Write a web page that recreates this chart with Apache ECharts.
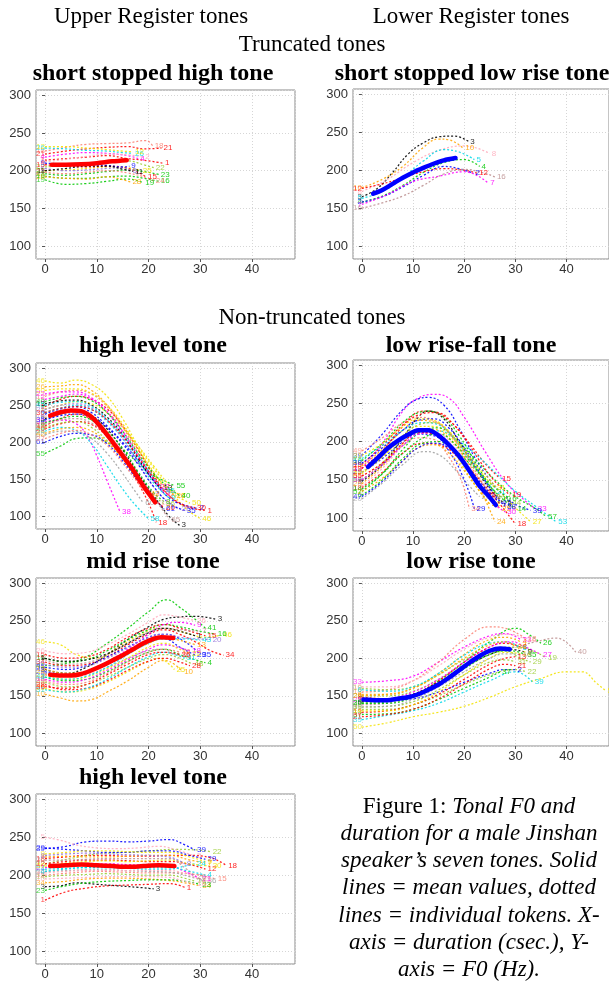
<!DOCTYPE html>
<html><head><meta charset="utf-8">
<script src="https://cdn.jsdelivr.net/npm/echarts@6/dist/echarts.min.js"></script>
<style>html,body{margin:0;padding:0;background:#fff}#c{width:609px;height:983px}</style>
</head><body><div id="c"></div>
<script>
// ---------------- DATA ----------------
const xTicks = [0, 10, 20, 30, 40];
const yTicks = [100, 150, 200, 250, 300];
const headerTexts = ['Upper Register tones', 'Lower Register tones', 'Truncated tones', 'Non-truncated tones'];
const panelTitles = ['short stopped high tone', 'short stopped low rise tone', 'high level tone', 'low rise-fall tone', 'mid rise tone', 'low rise tone', 'high level tone'];
const captionLines = [
  ['Figure 1: ', 'Tonal F0 and'],
  ['', 'duration for a male Jinshan'],
  ['', 'speaker\u2019s seven tones. Solid'],
  ['', 'lines = mean values, dotted'],
  ['', 'lines = individual tokens. X-'],
  ['', 'axis = duration (csec.), Y-'],
  ['', 'axis = F0 (Hz).']
];

// Panel 1: short stopped high tone
const p1Mean = [[1.3,208],[4,208],[7,208.5],[10,210],[13,212.5],[15.8,214]];
const p1Ids = [18,21,1,26,22,25,23,16,19,28,24,15,6,9,12,4,11,2];
const p1Tokens = [
  [[0,226],[4,231],[8,235],[12,236],[16,237],[19.5,240],[20.8,233]],
  [[0,222],[4,226],[8,229],[12,231],[16,232],[19,229],[22.5,230]],
  [[0,214],[4,216],[8,218],[12,220],[16,216],[19,214],[22.8,210]],
  [[0,230],[4,229],[8,227],[12,226],[15,224],[17,223]],
  [[0,205],[4,207],[8,209],[12,212],[16,213],[19,208],[21,204]],
  [[0,200],[4,201],[8,203],[12,205],[16,204],[18.5,200]],
  [[0,196],[4,194],[8,196],[12,199],[16,201],[19,199],[22,195]],
  [[0,193],[4,190],[8,190],[12,192],[16,193],[19,190],[22,186]],
  [[0,188],[4,182],[8,183],[12,186],[16,189],[19,184]],
  [[0,192],[4,190],[8,189],[12,192],[15,188],[16.5,185]],
  [[0,198],[4,196],[8,198],[12,200],[16,197],[20,190],[21,186]],
  [[0,208],[4,206],[8,205],[12,206],[16,203],[19.5,192]],
  [[0,203],[4,200],[8,201],[12,203],[15,204],[16.5,200]],
  [[0,210],[4,209],[8,208],[12,207],[15,205],[16.3,206]],
  [[0,232],[4,232],[8,230],[12,228],[15,226],[17,225]],
  [[0,218],[4,222],[8,224],[12,223],[16,220],[18,216]],
  [[0,200],[4,203],[8,206],[12,206],[15,202],[17,199]],
  [[0,212],[4,215],[8,219],[12,222],[16,221],[19,218]]
];

// Panel 2: short stopped low rise tone
const p2Mean = [[2.2,169],[4,174],[6,182],[8,190],[10,197],[12,203],[14,208.5],[16,213],[18.3,216]];
const p2Ids = [3,10,8,5,4,12,2,7,16];
const p2Tokens = [
  [[0,165],[3,176],[6,197],[9,221],[12,236],[15,244],[18,245],[20.8,238]],
  [[0,177],[4,188],[8,205],[12,230],[15,241],[17,240],[19.8,229]],
  [[0,172],[5,188],[10,210],[15,226],[20,232],[25,222]],
  [[0,163],[4,172],[8,190],[12,212],[16,227],[19,224],[22,214]],
  [[0,158],[4,166],[8,180],[12,197],[16,210],[20,214],[23,205]],
  [[0,176],[4,182],[8,190],[12,198],[16,202],[20,200],[22.5,196]],
  [[0,158],[4,165],[8,178],[12,193],[16,205],[19,202],[21.8,196]],
  [[0,155],[5,168],[10,185],[15,192],[20,198],[24.7,183]],
  [[0,150],[4,157],[8,166],[12,180],[16,195],[20,201],[24,196],[26,191]]
];

// Panel 3: high level tone (falling)
const p3Mean = [[1,236],[3,240.5],[5,243],[7,242],[9,234],[11,219],[13,201],[15,182],[17,163],[19,141],[21.3,119]];
const p3Ids = [46,1,2,55,38,58,18,3,61,60,26,5,7,12,8,9,13,15,20,25,35,40,36,42,50,27,22,45,65,30];
const p3Tokens = [
  [[0,283],[3,280],[6,284],[9,278],[12,262],[15,232],[18,195],[21,165],[24,137],[27,112],[30,97]],
  [[0,248],[3,258],[6,262],[9,258],[12,245],[15,222],[18,190],[21,155],[24,128],[27,114],[31,108]],
  [[0,238],[3,245],[6,248],[9,240],[12,222],[15,200],[18,175],[21,148],[24,125],[27,115],[29.5,111]],
  [[0,185],[3,195],[6,205],[9,206],[12,200],[15,190],[18,172],[21,155],[24,145],[25,141]],
  [[0,228],[3,230],[6,225],[8,210],[10,182],[12,148],[14.5,106]],
  [[0,215],[3,220],[6,216],[9,198],[12,168],[15,137],[17.5,115],[20,97]],
  [[0,222],[3,232],[6,238],[9,230],[12,210],[15,180],[18,145],[20,118],[21.5,92]],
  [[0,232],[3,238],[6,242],[9,236],[12,218],[15,190],[18,158],[21,128],[24,100],[26,88]],
  [[0,200],[3,208],[6,212],[9,210],[12,198],[15,175],[18,148],[21,125],[23,110]],
  [[0,210],[3,215],[6,214],[9,205],[12,185],[15,158],[17,138],[19,118]],
  [[0,275],[3,276],[6,278],[9,270],[12,250],[15,222],[18,190],[21,158],[23,140],[25,128]],
  [[0,258],[3,262],[6,265],[9,258],[12,240],[15,212],[18,180],[21,150],[23,132]],
  [[0,245],[3,250],[6,255],[9,252],[12,240],[15,220],[18,195],[21,168],[24,142],[26,128]],
  [[0,262],[3,268],[6,270],[9,265],[12,248],[15,220],[18,185],[21,150],[23,130]],
  [[0,226],[3,232],[6,235],[9,230],[12,215],[15,192],[18,160],[21,132],[23,120]],
  [[0,240],[3,246],[6,250],[9,244],[12,228],[15,205],[18,175],[21,145],[24,125]],
  [[0,252],[3,256],[6,257],[9,250],[12,234],[15,210],[18,178],[21,148],[22.5,138]],
  [[0,235],[3,240],[6,240],[9,232],[12,215],[15,188],[18,155],[21,125],[22,118]],
  [[0,218],[3,225],[6,228],[9,224],[12,208],[15,185],[18,152],[21,124],[23,112]],
  [[0,244],[3,250],[6,252],[9,246],[12,230],[15,205],[18,172],[21,140],[24,118],[26,110]],
  [[0,230],[3,236],[6,238],[9,234],[12,220],[15,198],[18,170],[21,140],[24,118],[27,108]],
  [[0,255],[3,260],[6,262],[9,256],[12,240],[15,215],[18,185],[21,158],[24,138],[26,128]],
  [[0,220],[3,226],[6,228],[9,220],[12,202],[15,178],[18,150],[21,128],[23,117]],
  [[0,212],[3,218],[6,220],[9,215],[12,200],[15,178],[18,150],[20,130]],
  [[0,270],[3,272],[6,272],[9,266],[12,250],[15,225],[18,192],[21,160],[24,135],[28,118]],
  [[0,205],[3,212],[6,216],[9,210],[12,196],[15,172],[18,145],[20,128]],
  [[0,265],[3,268],[6,268],[9,260],[12,242],[15,215],[18,182],[20,160],[22,140]],
  [[0,250],[3,254],[6,255],[9,248],[12,232],[15,210],[18,182],[21,152],[23,135]],
  [[0,224],[3,230],[6,232],[9,226],[12,210],[15,186],[18,156],[21,126],[24,96]],
  [[0,240],[3,246],[6,248],[9,244],[12,230],[15,208],[18,180],[21,152],[24,128],[27,115],[29,112]]
];

// Panel 4: low rise-fall tone
const p4Mean = [[1.2,167],[3,178],[5,191],[7,201],[9,209],[11,215],[13,215],[15,208],[17,196],[19,181],[21,162],[23,142],[24.5,131],[26.2,117]];
const p4Ids = [33,39,20,15,53,34,29,18,24,27,57,3,25,6,10,12,21,9,44,14,49,38,2,30,47,19,31,55];
const p4Tokens = [
  [[0,165],[4,198],[8,240],[11,257],[14,262],[17,257],[20,232],[24,188],[28,148],[32,122],[34,112]],
  [[0,182],[4,210],[8,242],[11,256],[13,258],[16,248],[19,218],[22,180],[25,150],[28,128],[30,118],[33,110]],
  [[0,125],[4,146],[8,170],[12,187],[15,183],[18,165],[21,142],[23,128]],
  [[0,170],[4,195],[8,222],[12,240],[15,238],[18,222],[21,198],[24,172],[27,152]],
  [[0,150],[4,170],[8,195],[12,212],[15,214],[18,205],[22,185],[26,160],[30,135],[34,115],[38,95]],
  [[0,155],[4,172],[8,195],[11,205],[14,203],[17,180],[19.5,148],[21,112]],
  [[0,160],[4,178],[8,200],[11,210],[14,208],[17,188],[20,150],[22,112]],
  [[0,140],[4,160],[8,185],[12,198],[15,196],[19,178],[23,150],[27,118],[30,92]],
  [[0,168],[4,190],[8,215],[11,228],[14,226],[17,212],[20,180],[23,140],[26,95]],
  [[0,158],[4,180],[8,208],[11,220],[14,220],[17,208],[21,180],[25,150],[29,120],[33,95]],
  [[0,135],[4,158],[8,190],[12,215],[15,218],[18,205],[22,178],[26,150],[30,128],[34,112],[36,102]],
  [[0,148],[4,170],[8,205],[11,232],[13,240],[16,230],[19,200],[22,168],[25,138],[28,118]],
  [[0,145],[4,168],[8,198],[11,215],[14,216],[17,205],[20,180],[23,150],[26,122],[27,112]],
  [[0,130],[4,150],[8,178],[12,198],[15,200],[18,190],[22,165],[26,140],[29,125]],
  [[0,175],[4,198],[8,225],[11,238],[13,240],[16,232],[19,208],[22,175],[25,142],[27,125]],
  [[0,160],[4,180],[8,205],[11,215],[14,212],[17,195],[20,165],[23,135],[25,118]],
  [[0,178],[4,195],[8,215],[12,225],[15,222],[18,205],[21,178],[24,150],[26,135]],
  [[0,142],[4,165],[8,195],[11,210],[14,212],[17,202],[20,178],[23,150],[26,128],[29,112]],
  [[0,150],[4,172],[8,205],[11,222],[14,225],[17,212],[20,188],[23,158],[26,135],[29,120]],
  [[0,138],[4,158],[8,185],[12,205],[15,210],[18,198],[21,175],[24,150],[27,128],[30,112]],
  [[0,188],[4,205],[8,225],[11,232],[14,228],[17,212],[20,185],[23,152],[25,128]],
  [[0,172],[4,192],[8,215],[11,228],[14,230],[17,218],[20,192],[23,160],[26,130],[28,115]],
  [[0,135],[4,152],[8,175],[11,192],[14,196],[17,185],[20,162],[23,135],[25,118]],
  [[0,150],[4,170],[8,195],[11,210],[14,212],[17,198],[20,172],[23,142],[26,118],[28,108]],
  [[0,128],[4,148],[8,175],[11,192],[14,198],[17,192],[20,172],[24,140],[27,120]],
  [[0,165],[4,188],[8,220],[11,235],[14,238],[17,228],[20,205],[23,175],[26,148],[29,130]],
  [[0,182],[4,198],[8,220],[11,230],[14,228],[17,214],[20,190],[23,162],[26,140]],
  [[0,155],[4,172],[8,198],[11,212],[14,210],[17,195],[20,170],[22,150],[24,130]]
];

// Panel 5: mid rise tone
const p5Mean = [[1,178],[3,177],[5,177],[7,179],[9,184],[11,190],[13,197],[15,204],[17,212],[19,220],[21,226],[22.5,228],[24.8,227]];
const p5Ids = [41,3,10,46,16,34,4,48,25,29,35,15,9,18,28,26,31,5,20,13,39,7,22,36,43,1];
const p5Tokens = [
  [[0,190],[4,193],[8,202],[12,220],[16,240],[20,262],[23.5,278],[26,268],[29,252],[31,240]],
  [[0,185],[4,180],[8,188],[12,205],[16,225],[20,242],[23,252],[26,255],[29,256],[33,252]],
  [[0,152],[3,147],[6,143],[9,145],[12,155],[16,170],[20,188],[23,197],[25,192],[26.5,182]],
  [[0,222],[3,218],[6,205],[10,200],[14,214],[18,230],[22,240],[25,238],[28,232],[31,228],[34,231]],
  [[0,200],[4,195],[8,198],[12,210],[16,225],[20,238],[23,245],[26,242],[30,236],[33,232]],
  [[0,195],[4,190],[8,192],[12,202],[16,218],[20,232],[23,238],[26,232],[29,222],[32,210],[34.5,204]],
  [[0,175],[4,170],[8,172],[12,182],[16,196],[20,208],[23,212],[26,205],[29,198],[31,194]],
  [[0,168],[4,162],[8,165],[12,175],[16,188],[20,200],[23,205],[26,200],[28.5,192]],
  [[0,160],[4,155],[8,158],[12,168],[16,182],[20,196],[22,200],[24,192],[25,185]],
  [[0,182],[4,178],[8,182],[12,193],[16,208],[20,222],[23,226],[26,215],[29,204]],
  [[0,188],[4,185],[8,190],[12,202],[16,215],[20,228],[23,232],[27,222],[30,205]],
  [[0,205],[4,200],[8,202],[12,212],[16,228],[20,240],[23,245],[26,240],[29,234],[31,230]],
  [[0,178],[4,176],[8,180],[12,195],[16,212],[20,232],[23,245],[26,248],[29,244]],
  [[0,172],[4,168],[8,172],[12,184],[16,198],[20,212],[23,218],[26,214],[28,210]],
  [[0,165],[4,158],[8,160],[12,170],[16,184],[20,196],[23,200],[26,195],[28,190]],
  [[0,210],[4,206],[8,208],[12,218],[16,232],[20,248],[23,258],[26,255],[29,250]],
  [[0,158],[4,155],[8,160],[12,172],[16,188],[20,202],[23,208],[25,205],[27,200]],
  [[0,180],[4,176],[8,178],[12,188],[16,200],[20,210],[23,212],[25,205],[27,203]],
  [[0,192],[4,188],[8,190],[12,200],[16,214],[20,228],[23,232],[26,228],[29,226],[32,225]],
  [[0,186],[4,180],[8,182],[12,192],[16,206],[20,220],[23,226],[26,224],[29,218]],
  [[0,170],[4,165],[8,168],[12,180],[16,195],[20,208],[23,212],[26,208]],
  [[0,198],[4,192],[8,194],[12,205],[16,220],[20,235],[23,240],[26,238],[30,236]],
  [[0,178],[4,172],[8,175],[12,186],[16,200],[20,215],[23,220],[26,212],[28,206]],
  [[0,162],[4,160],[8,165],[12,178],[16,192],[20,205],[23,208],[26,205]],
  [[0,175],[4,172],[8,176],[12,188],[16,205],[20,220],[23,226],[27,226],[30,224]],
  [[0,200],[4,196],[8,198],[12,206],[16,220],[20,234],[23,240],[26,236],[29,230]]
];

// Panel 6: low rise tone
const p6Mean = [[0.3,145],[3,144],[5,144],[7,146],[9,148],[11,152],[13,158],[15,165],[17,174],[19,184],[21,194],[23,203],[25,210],[27,213],[28.9,212]];
const p6Ids = [40,50,39,33,18,26,2,22,29,37,19,31,8,4,16,13,9,14,21,6,27,35,10,24];
const p6Tokens = [
  [[0,138],[5,140],[10,150],[15,168],[20,190],[25,208],[30,215],[34,222],[38,227],[41.8,208]],
  [[0,108],[5,114],[10,122],[15,128],[20,136],[25,148],[30,162],[35,173],[40,182],[43,182],[46,166],[47.6,157]],
  [[0,118],[5,124],[10,130],[15,140],[20,155],[25,170],[30,182],[33.4,168]],
  [[0,168],[5,170],[10,176],[15,195],[20,215],[25,230],[28,233],[31,225]],
  [[0,155],[5,158],[10,170],[15,195],[20,225],[25,242],[28,240],[32,226]],
  [[0,140],[5,142],[10,150],[15,170],[20,195],[25,222],[30,240],[33,230],[35,220]],
  [[0,145],[5,144],[10,146],[15,155],[20,168],[25,180],[28,185],[30,185]],
  [[0,132],[5,132],[10,138],[15,150],[20,165],[25,178],[30,185],[32,182]],
  [[0,150],[5,150],[10,156],[15,172],[20,192],[25,206],[28,210],[31,200],[33,195]],
  [[0,125],[5,126],[10,132],[15,145],[20,160],[25,175],[27,182]],
  [[0,160],[5,158],[10,162],[15,178],[20,198],[25,212],[30,215],[34,208],[36,200]],
  [[0,135],[5,136],[10,142],[15,158],[20,178],[25,195],[28,198],[30,195]],
  [[0,148],[5,146],[10,152],[15,170],[20,195],[25,215],[28,220],[31,215]],
  [[0,152],[5,152],[10,160],[15,180],[20,205],[25,225],[28,228],[31,222]],
  [[0,162],[5,162],[10,170],[15,190],[20,212],[25,228],[29,232],[32,225]],
  [[0,128],[5,130],[10,138],[15,152],[20,172],[25,192],[28,200],[30,202]],
  [[0,142],[5,144],[10,152],[15,168],[20,188],[25,205],[29,212],[32,208]],
  [[0,130],[5,130],[10,138],[15,155],[20,178],[25,200],[28,208],[31,206]],
  [[0,122],[5,125],[10,132],[15,146],[20,166],[25,186],[28,192],[30,190]],
  [[0,158],[5,156],[10,162],[15,180],[20,204],[25,220],[28,222],[31,214]],
  [[0,145],[5,146],[10,155],[15,172],[20,195],[25,215],[29,222],[32,215],[35,205]],
  [[0,140],[5,140],[10,148],[15,165],[20,186],[25,205],[29,210],[32,205]],
  [[0,135],[5,136],[10,145],[15,162],[20,182],[25,200],[28,206],[31,205]],
  [[0,150],[5,152],[10,160],[15,178],[20,200],[25,218],[28,222],[30,215]]
];

// Panel 7: high level tone
const p7Mean = [[1,212],[4,213],[7,214],[10,213],[13,212],[16,211],[19,212],[22,213],[25,212]];
const p7Ids = [39,1,3,18,15,22,29,34,23,5,36,9,12,21,24,7,14,30,33,16,26,8,4];
const p7Tokens = [
  [[0,235],[4,238],[8,244],[12,245],[16,244],[20,245],[24,247],[27,240],[29,233]],
  [[0,167],[4,178],[8,183],[12,186],[16,187],[20,188],[24,189],[27,184]],
  [[0,185],[3,186],[6,190],[10,188],[14,186],[18,184],[21,182]],
  [[0,222],[4,224],[8,226],[12,226],[16,225],[20,225],[24,226],[28,226],[32,223],[35,213]],
  [[0,200],[5,203],[10,205],[15,204],[20,203],[25,203],[30,200],[33,195]],
  [[0,215],[5,222],[10,228],[15,230],[20,232],[25,234],[30,233],[32,231]],
  [[0,236],[4,234],[8,232],[12,230],[16,230],[20,232],[24,232],[28,226],[31,221]],
  [[0,190],[4,192],[8,195],[12,196],[16,196],[20,195],[24,193],[27,190],[30,186]],
  [[0,180],[4,186],[8,190],[12,192],[16,193],[20,194],[24,194],[27,192],[30,188]],
  [[0,250],[3,246],[6,240],[10,236],[14,235],[18,236],[22,238],[26,232],[29,225]],
  [[0,205],[4,206],[8,207],[12,207],[16,206],[20,205],[24,204],[28,198],[31,192]],
  [[0,228],[4,230],[8,232],[12,232],[16,231],[20,230],[24,230],[28,224],[31,218]],
  [[0,215],[4,218],[8,220],[12,220],[16,219],[20,218],[24,218],[28,214],[31,208]],
  [[0,210],[4,212],[8,214],[12,215],[16,214],[20,213],[24,212],[27,205],[30,195]],
  [[0,208],[4,209],[8,210],[12,210],[16,209],[20,208],[24,208],[27,212],[29,215]],
  [[0,224],[4,225],[8,224],[12,224],[16,225],[20,226],[24,226],[28,220],[31,216]],
  [[0,198],[4,200],[8,201],[12,202],[16,201],[20,200],[24,200],[27,196],[29,192]],
  [[0,212],[4,216],[8,218],[12,219],[16,218],[20,219],[24,220],[28,215],[32,212]],
  [[0,203],[4,205],[8,206],[12,206],[16,206],[20,206],[24,206],[28,200],[30,194]],
  [[0,195],[4,196],[8,197],[12,198],[16,198],[20,198],[24,197],[27,192],[29,189]],
  [[0,220],[4,220],[8,221],[12,222],[16,222],[20,222],[24,222],[27,210],[29,198]],
  [[0,226],[4,228],[8,229],[12,228],[16,227],[20,226],[24,224],[27,215]],
  [[0,205],[4,208],[8,210],[12,210],[16,210],[20,210],[24,210],[28,205],[31,200]]
];

// ---------------- STYLE ----------------
const palette = {r:'#ff0000', g:'#00c800', b:'#0000ff', c:'#00d8e8', m:'#ff00ff', y:'#f2e200', k:'#000000',
  o:'#ffa500', s:'#fa8072', p:'#ffaabb', l:'#9acd32', e:'#a0a0a0', w:'#bc8f8f', v:'#9370db'};
const tokenColours = [
  'srrclygggosrvbymkp',
  'kopcgrbmw',
  'yrbgmcrkbeomysgckprvbgloysmcwr',
  'mbercsbroygkoggycplgsbombryrgc',
  'gkoygrglybbrmmrpcevoswyrckv',
  'wycmsgbllgllroprkyrcmgeos',
  'brkrslbogpeyrmcolyppwvcr'
];
const layout = [
  {grid:{left:36, top:90, width:259, height:169}, mean:'#ff0000', title:[153,74]},
  {grid:{left:353, top:89, width:259, height:170}, mean:'#0000ff', title:[472,74]},
  {grid:{left:36, top:363, width:259, height:166}, mean:'#ff0000', title:[153,346]},
  {grid:{left:353, top:360, width:259, height:171}, mean:'#0000ff', title:[471,346]},
  {grid:{left:36, top:578, width:259, height:168}, mean:'#ff0000', title:[153,562]},
  {grid:{left:353, top:578, width:259, height:168}, mean:'#0000ff', title:[471,562]},
  {grid:{left:36, top:794, width:259, height:170}, mean:'#ff0000', title:[153,778]}
];
const means = [p1Mean, p2Mean, p3Mean, p4Mean, p5Mean, p6Mean, p7Mean];
const tokens = [p1Tokens, p2Tokens, p3Tokens, p4Tokens, p5Tokens, p6Tokens, p7Tokens];
const ids = [p1Ids, p2Ids, p3Ids, p4Ids, p5Ids, p6Ids, p7Ids];

const SANS = '"Liberation Sans", Arial, sans-serif';
const SERIF = '"Liberation Serif", "Times New Roman", serif';

const grids = [], xAxes = [], yAxes = [], series = [], graphics = [];
layout.forEach((L, i) => {
  grids.push(Object.assign({show:true, borderColor:'#8a8a8a', borderWidth:1, backgroundColor:'#ffffff'}, L.grid));
  xAxes.push({type:'value', gridIndex:i, min:-1.74, max:48.3, minInterval:10, maxInterval:10,
    axisLine:{show:false}, axisTick:{show:true, length:3, lineStyle:{color:'#555'}},
    axisLabel:{showMinLabel:false, showMaxLabel:false, fontSize:13, color:'#333', margin:4, fontFamily:SANS},
    splitLine:{show:true, lineStyle:{color:'#d6d6d6', width:1, type:[1,2]}}});
  yAxes.push({type:'value', gridIndex:i, min:83, max:307, minInterval:50, maxInterval:50,
    axisLine:{show:false}, axisTick:{show:true, length:3, lineStyle:{color:'#555'}},
    axisLabel:{showMinLabel:false, showMaxLabel:false, fontSize:13, color:'#333', margin:5, fontFamily:SANS},
    splitLine:{show:true, lineStyle:{color:'#d6d6d6', width:1, type:[1,2]}}});
  const cols = tokenColours[i];
  const startPts = [];
  tokens[i].forEach((pts, j) => {
    const col = palette[cols[j % cols.length]];
    series.push({type:'line', xAxisIndex:i, yAxisIndex:i, data:pts, smooth:0.45,
      symbol:'none', silent:true, animation:false, z:2,
      lineStyle:{color:col, width:1.25, type:[2,2], opacity:0.88},
      endLabel:{show:true, formatter:String(ids[i][j]), color:col, fontSize:8, fontFamily:SANS, distance:2, opacity:0.85}});
    startPts.push({value:pts[0], label:{color:col, formatter:String(ids[i][j])}});
  });
  series.push({type:'scatter', xAxisIndex:i, yAxisIndex:i, data:startPts, symbolSize:0.1, silent:true, animation:false, z:2,
    itemStyle:{opacity:0},
    label:{show:true, position:'left', distance:0, fontSize:8, fontFamily:SANS, opacity:0.7}});
  series.push({type:'line', xAxisIndex:i, yAxisIndex:i, data:means[i], smooth:0.3, symbol:'none', silent:true,
    animation:false, z:5, lineStyle:{color:L.mean, width:4.5, cap:'round', join:'round'}});
  graphics.push({type:'text', x:L.title[0], y:L.title[1],
    style:{text:panelTitles[i], font:'bold 24px ' + SERIF, fill:'#000', textAlign:'center', textVerticalAlign:'middle', align:'center', verticalAlign:'middle'}});
});

const headerPos = [[151,17],[471,17],[312,45],[312,318]];
headerTexts.forEach((t, k) => {
  graphics.push({type:'text', x:headerPos[k][0], y:headerPos[k][1],
    style:{text:t, font:'23px ' + SERIF, fill:'#000', textAlign:'center', textVerticalAlign:'middle', align:'center', verticalAlign:'middle'}});
});
const capY = [807, 834, 861, 888, 916, 943, 970];
captionLines.forEach((ln, k) => {
  const txt = (ln[0] ? '{n|' + ln[0] + '}' : '') + '{i|' + ln[1] + '}';
  graphics.push({type:'text', x:469, y:capY[k],
    style:{text:txt, font:'23px ' + SERIF, fill:'#000', textAlign:'center', textVerticalAlign:'middle', align:'center', verticalAlign:'middle',
      rich:{n:{fontSize:23, fontFamily:SERIF, fontStyle:'normal', textFill:'#000', fill:'#000'},
            i:{fontSize:23, fontFamily:SERIF, fontStyle:'italic', textFill:'#000', fill:'#000'}}}});
});

const chart = echarts.init(document.getElementById('c'), null, {renderer:'canvas', width:609, height:983});
chart.setOption({backgroundColor:'#ffffff', animation:false, grid:grids, xAxis:xAxes, yAxis:yAxes, series:series, graphic:graphics});
</script></body></html>
